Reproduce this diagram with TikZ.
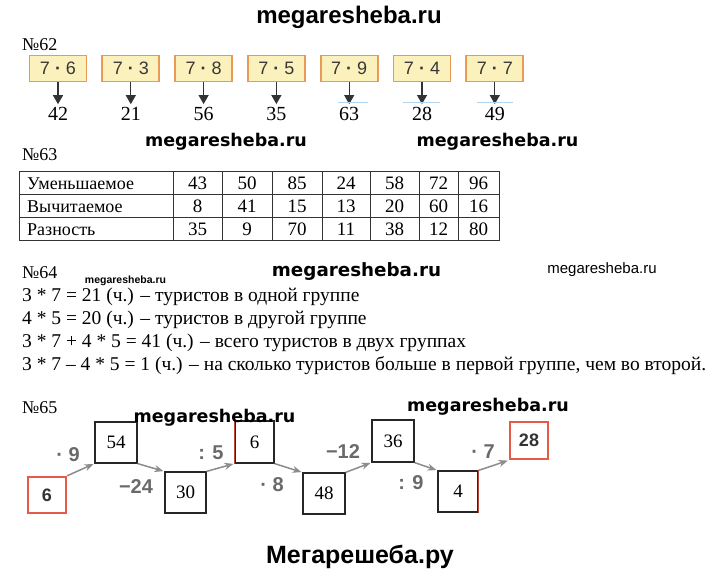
\documentclass[tikz,border=0pt]{standalone}
\usepackage{fontspec}
\setmainfont{Liberation Serif}
\setsansfont{Liberation Sans}
\newfontfamily\heavyfont{DejaVu Sans}
\usetikzlibrary{arrows.meta}
\definecolor{boxfill}{HTML}{FBF1BC}
\definecolor{boxline}{HTML}{E99A55}
\definecolor{markred}{HTML}{E85A48}
\definecolor{signgray}{HTML}{6A6A6A}
\definecolor{arrowgray}{HTML}{8C8C8C}
\definecolor{scanblue}{HTML}{B0D4EC}
\newcommand{\fs}[1]{\fontsize{#1}{#1}\selectfont}
\newcommand{\mdot}{{\bfseries ·}}
\begin{document}
\begin{tikzpicture}[x=1pt,y=-1pt,
    prodbox/.style={draw=boxline,fill=boxfill,line width=1.8pt,minimum width=57pt,minimum height=26pt,inner sep=0pt,text=black!78,font=\sffamily\fs{18}},
    resnum/.style={inner sep=1pt,font=\fs{20}},
    downarrow/.style={draw=black!80,line width=1.2pt,-{Triangle[width=10pt,length=9pt]},shorten >=2pt},
    numlabel/.style={anchor=west,inner sep=0pt,font=\fs{18}},
    cell/.style={inner sep=0pt,font=\fs{19}},
    rowlabel/.style={anchor=west,inner sep=0pt,font=\fs{18}},
    textline/.style={anchor=west,inner sep=0pt,font=\fs{19.5}},
    chainbox/.style={draw=black!85,line width=1.2pt,inner sep=0pt,font=\fs{19}},
    redbox/.style={draw=markred,line width=2.5pt,inner sep=0pt,text=black!80,font=\sffamily\bfseries\fs{18}},
    sign/.style={inner sep=0pt,text=signgray,font=\sffamily\bfseries\fs{20}},
    chainarrow/.style={draw=arrowgray,line width=1.5pt,-{Stealth[length=9pt,width=7pt]},shorten >=1pt},
    heavymark/.style={inner sep=0pt,font=\heavyfont\bfseries\fs{17.5}},
]
    \useasboundingbox[fill=white] (0,0) rectangle (720,577);

    \node[inner sep=0pt,font=\sffamily\bfseries\fs{24}] (mark0) at (349,17) {megaresheba.ru};

    % No 62
    \node[numlabel] (n62) at (22,45) {№62};
    \foreach \b/\r [count=\i] in {6/42,3/21,8/56,5/35,9/63,4/28,7/49} {
        \node[prodbox] (p\i) at ({58+72.8*(\i-1)},68.5) {7 \mdot{} \b};
        \node[resnum] (r\i) at ({58+72.8*(\i-1)},114) {\r};
        \draw[downarrow] (p\i.south) -- (r\i.north);
    }
    \foreach \i/\a/\b in {5/-11/19,6/-19/18,7/-18/18}
        \draw[scanblue,line width=0.8pt] ([xshift=\a pt]p\i.south |- 0,102) -- ([xshift=\b pt]p\i.south |- 0,102);

    % No 63
    \node[numlabel] (n63) at (22,155) {№63};
    \draw[black!80,line width=1pt] (19,172) rectangle (499,241);
    \foreach \y in {195,218}
        \draw[black!80,line width=1pt] (19,\y) -- (499,\y);
    \foreach \x in {173,222,272,322,370,419,458}
        \draw[black!80,line width=1pt] (\x,172) -- (\x,241);
    \foreach \lab/\vals [count=\j] in {Уменьшаемое/{43,50,85,24,58,72,96},Вычитаемое/{8,41,15,13,20,60,16},Разность/{35,9,70,11,38,12,80}} {
        \node[rowlabel] (t\j-0) at (27,{160.5+23*\j}) {\lab};
        \foreach \v [count=\k] in \vals {
            \pgfmathsetmacro{\cx}{{197.5,247,297,346,394.5,438.5,478.5}[\k-1]}
            \node[cell] (t\j-\k) at (\cx,{160.5+23*\j}) {\v};
        }
    }
    \node[heavymark] (mark1) at (226,142) {megaresheba.ru};
    \node[heavymark] (mark2) at (497.5,142) {megaresheba.ru};

    % No 64
    \node[numlabel] (n64) at (22,273) {№64};
    \node[inner sep=0pt,font=\sffamily\bfseries\fs{10.5}] (mark3) at (125.5,281) {megaresheba.ru};
    \node[heavymark,font=\heavyfont\bfseries\fs{18.3}] (mark4) at (356.5,272) {megaresheba.ru};
    \node[inner sep=0pt,font=\sffamily\fs{15}] (mark5) at (602,270) {megaresheba.ru};
    \node[textline] (l1) at (22,297) {3 * 7 = 21 (ч.) – туристов в одной группе};
    \node[textline] (l2) at (22,320) {4 * 5 = 20 (ч.) – туристов в другой группе};
    \node[textline] (l3) at (22,343) {3 * 7 + 4 * 5 = 41 (ч.) – всего туристов в двух группах};
    \node[textline] (l4) at (22,366) {3 * 7 – 4 * 5 = 1 (ч.) – на сколько туристов больше в первой группе, чем во второй.};

    % No 65
    \node[numlabel] (n65) at (22,408) {№65};
    \node[redbox,minimum width=38pt,minimum height=36pt] (a0) at (47,495) {6};
    \node[chainbox,minimum width=42pt,minimum height=41pt] (a1) at (116,442.5) {54};
    \node[chainbox,minimum width=41pt,minimum height=41pt] (a2) at (185.5,492.5) {30};
    \node[chainbox,minimum width=39pt,minimum height=42pt] (a3) at (254.5,442) {6};
    \node[chainbox,minimum width=42pt,minimum height=41pt] (a4) at (324,493.5) {48};
    \node[chainbox,minimum width=42pt,minimum height=42pt] (a5) at (393,441) {36};
    \node[chainbox,minimum width=40pt,minimum height=41pt] (a6) at (458,491.5) {4};
    \node[redbox,minimum width=38pt,minimum height=37pt] (a7) at (529,440.5) {28};
    \draw[markred!80!black,line width=1.2pt] (a3.north west) -- (a3.south west);
    \draw[markred!80!black,line width=1.2pt] (a6.north east) -- (a6.south east);

    \draw[chainarrow] (a0.north east) -- (a1.south west);
    \draw[chainarrow] (a1.south east) -- (a2.north west);
    \draw[chainarrow] (a2.north east) -- (a3.south west);
    \draw[chainarrow] (a3.south east) -- (a4.north west);
    \draw[chainarrow] (a4.north east) -- (a5.south west);
    \draw[chainarrow] (a5.south east) -- (a6.north west);
    \draw[chainarrow] (a6.north east) -- (a7.south west);

    \node[sign] (s1) at (68,455) {· 9};
    \node[sign] (s2) at (136,487) {−24};
    \node[sign] (s3) at (211,453) {: 5};
    \node[sign] (s4) at (272,485) {· 8};
    \node[sign] (s5) at (343,452) {−12};
    \node[sign] (s6) at (411,483) {: 9};
    \node[sign] (s7) at (483,452) {· 7};

    \node[heavymark] (mark6) at (214.5,418) {megaresheba.ru};
    \node[heavymark] (mark7) at (488,407) {megaresheba.ru};

    \node[inner sep=0pt,font=\sffamily\bfseries\fs{25}] (mark8) at (360,557) {Мегарешеба.ру};
\end{tikzpicture}
\end{document}
